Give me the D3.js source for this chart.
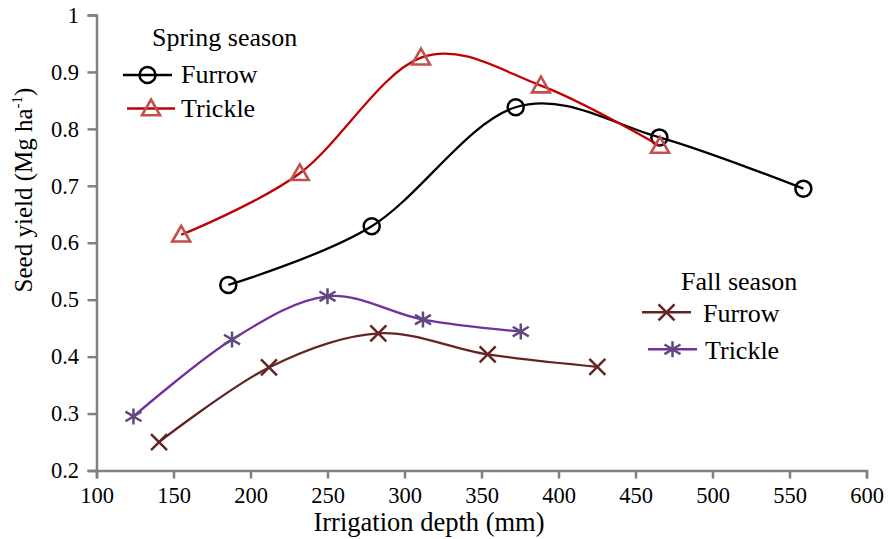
<!DOCTYPE html>
<html><head><meta charset="utf-8">
<script src="https://cdn.jsdelivr.net/npm/d3@7"></script>
<style>body{margin:0;background:#fff}svg{display:block}svg text{font-family:"Liberation Serif","Times New Roman",Times,serif;fill:#000}</style>
</head><body>
<svg id="c" width="888" height="539"></svg>
<script>
const xTicks = [100,150,200,250,300,350,400,450,500,550,600];
const yTicks = [0.2,0.3,0.4,0.5,0.6,0.7,0.8,0.9,1];
const yTickLabels = ["0.2","0.3","0.4","0.5","0.6","0.7","0.8","0.9","1"];

const springFurrowX = [185.6, 278.7, 372.2, 465.5, 559];
const springFurrowY = [0.526, 0.629, 0.838, 0.785, 0.695];
const springTrickleX = [155, 232, 310.7, 388.6, 465.9];
const springTrickleY = [0.614, 0.722, 0.925, 0.876, 0.77];
const fallFurrowX = [140.6, 212, 283, 354, 425.2];
const fallFurrowY = [0.25, 0.381, 0.441, 0.404, 0.382];
const fallTrickleX = [124, 188, 250, 312, 375.5];
const fallTrickleY = [0.295, 0.43, 0.506, 0.465, 0.444];

const svg = d3.select("#c");
const x = d3.scaleLinear().domain([100,600]).range([96.5,866.5]);
const y = d3.scaleLinear().domain([0.2,1]).range([470.5,15]);
const axisColor = "#808080";

const gx = svg.append("g").attr("transform","translate(0,470.5)")
  .call(d3.axisBottom(x).tickValues(xTicks).tickSize(8).tickPadding(9).tickFormat(d3.format("d")));
const gy = svg.append("g").attr("transform","translate(96.5,0)")
  .call(d3.axisLeft(y).tickValues(yTicks).tickSize(9).tickPadding(8.5).tickFormat((d,i)=>yTickLabels[i]));
[gx,gy].forEach(g=>{
  g.attr("font-family",null);
  g.select(".domain").attr("stroke",axisColor).attr("stroke-width",2.5);
  g.selectAll(".tick line").attr("stroke",axisColor).attr("stroke-width",2.5);
  g.selectAll(".tick text").style("font-size","22.5px").attr("fill","#000");
});
gx.selectAll(".tick text").attr("dy","0.68em");

svg.append("text").attr("x",429).attr("y",531).attr("text-anchor","middle").style("font-size","26.5px").text("Irrigation depth (mm)");
const yt = svg.append("text").attr("transform","translate(32,190) rotate(-90)").attr("text-anchor","middle").style("font-size","25px");
yt.append("tspan").text("Seed yield (Mg ha");
yt.append("tspan").attr("dy",-10).style("font-size","15px").text("-1");
yt.append("tspan").attr("dy",10).text(")");

const series = [
  {xs:springFurrowX, ys:springFurrowY, line:"#000000", mk:"#000000", m:"circle"},
  {xs:springTrickleX, ys:springTrickleY, line:"#c00000", mk:"#c0504d", m:"tri"},
  {xs:fallFurrowX, ys:fallFurrowY, line:"#632523", mk:"#632523", m:"x"},
  {xs:fallTrickleX, ys:fallTrickleY, line:"#7030a0", mk:"#604a7b", m:"star"}
];
const lineGen = d3.line().curve(d3.curveCatmullRom.alpha(0));

function marker(g, type, cx, cy, col){
  if(type==="circle"){
    g.append("circle").attr("cx",cx).attr("cy",cy).attr("r",8).attr("fill","none").attr("stroke",col).attr("stroke-width",2.5);
  } else if(type==="tri"){
    const s=9;
    g.append("path").attr("d",`M${cx},${cy-s}L${cx+s},${cy+s*0.75}L${cx-s},${cy+s*0.75}Z`).attr("fill","none").attr("stroke",col).attr("stroke-width",2.6);
  } else if(type==="x"){
    const s=8;
    g.append("path").attr("d",`M${cx-s},${cy-s}L${cx+s},${cy+s}M${cx-s},${cy+s}L${cx+s},${cy-s}`).attr("stroke",col).attr("stroke-width",2.5);
  } else {
    const s=8;
    g.append("path").attr("d",`M${cx},${cy-s}L${cx},${cy+s}M${cx-s},${cy-s*0.6}L${cx+s},${cy+s*0.6}M${cx-s},${cy+s*0.6}L${cx+s},${cy-s*0.6}`).attr("stroke",col).attr("stroke-width",2.5);
  }
}

series.forEach(s=>{
  const pts = s.xs.map((v,i)=>[x(v), y(s.ys[i])]);
  svg.append("path").attr("d",lineGen(pts)).attr("fill","none").attr("stroke",s.line).attr("stroke-width",2.3);
  const g = svg.append("g");
  pts.forEach(p=>marker(g,s.m,p[0],p[1],s.mk));
});

function legendTitle(tx,ty,t){ svg.append("text").attr("x",tx).attr("y",ty).style("font-size","26px").text(t); }
function legendItem(x1,x2,ly,s,t,tx,off){
  svg.append("line").attr("x1",x1).attr("x2",x2).attr("y1",ly).attr("y2",ly).attr("stroke",s.line).attr("stroke-width",2.5);
  marker(svg,s.m,(x1+x2)/2,ly,s.mk);
  svg.append("text").attr("x",tx).attr("y",ly+off).style("font-size","26px").text(t);
}
legendTitle(152,46,"Spring season");
legendItem(123,172,75,series[0],"Furrow",181,8);
legendItem(127,175,108.5,series[1],"Trickle",181,8.5);
legendTitle(681,290,"Fall season");
legendItem(642,691,312.3,series[2],"Furrow",703,9.4);
legendItem(648,697,349.3,series[3],"Trickle",705,9.7);
</script>
</body></html>
